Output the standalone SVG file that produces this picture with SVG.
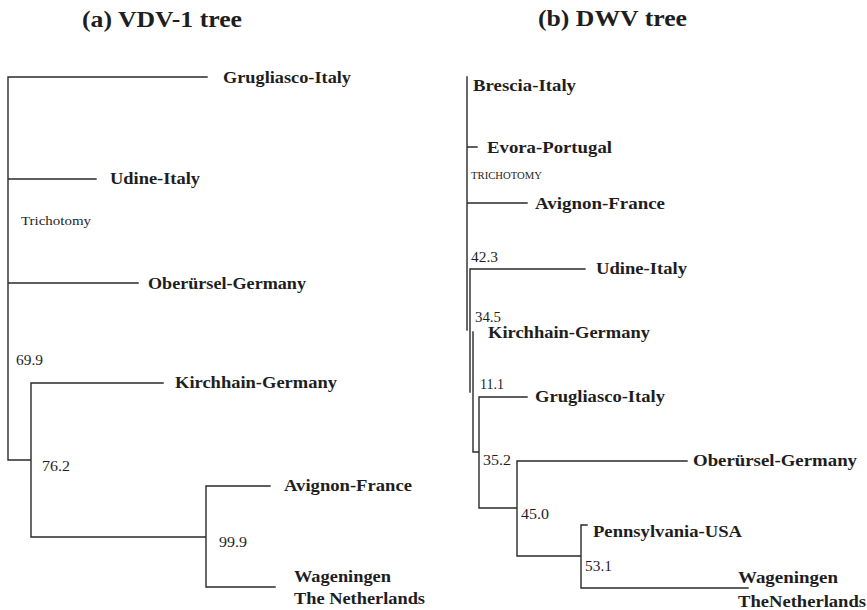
<svg xmlns="http://www.w3.org/2000/svg" width="867" height="610" viewBox="0 0 867 610">
<style>
.bg{fill:#ffffff}
.ln{stroke:#2a2a2a;stroke-width:1.4;fill:none;stroke-linecap:square}
.t{font-family:"Liberation Serif","Times New Roman",serif;fill:#1e1e1e}
.title{font-size:23px;font-weight:bold}
.lab{font-size:17px;font-weight:bold}
.num{font-size:14px}
.tri{font-size:12px}
.tri2{font-size:9.5px}
</style>
<rect class="bg" x="0" y="0" width="867" height="610"/>
<text class="t title" x="82" y="27" textLength="160" lengthAdjust="spacingAndGlyphs">(a) VDV-1 tree</text>
<text class="t title" x="538" y="26" textLength="149" lengthAdjust="spacingAndGlyphs">(b) DWV tree</text>
<g id="connectors">
<path class="ln" d="M8,77 V460 H31 M8,77 H207 M8,179 H96 M8,283 H138 M31,383 V537 M31,383 H163 M31,537 H206 M206,486 V587 M206,486 H270 M206,587 H275"/>
<path class="ln" d="M467,77 V330 M467,147 H477 M467,203 H527 M470,269 V392 M470,269 H585 M473,332 V452 H479 M479,397 V508 M479,397 H527 M479,508 H517 M517,461 V556 M517,461 H687 M517,556 H581 M581,525 V588 M581,525 H587 M581,588 H748"/>
</g>
<g id="a-grugliasco"><text class="t lab" x="223" y="83" textLength="128" lengthAdjust="spacingAndGlyphs">Grugliasco-Italy</text></g>
<g id="a-udine"><text class="t lab" x="110" y="184" textLength="90" lengthAdjust="spacingAndGlyphs">Udine-Italy</text></g>
<g id="a-trichotomy"><text class="t tri" x="21" y="225" textLength="70" lengthAdjust="spacingAndGlyphs">Trichotomy</text></g>
<g id="a-oberursel"><text class="t lab" x="148" y="289" textLength="158" lengthAdjust="spacingAndGlyphs">Oberürsel-Germany</text></g>
<g id="a-699"><text class="t num" x="16" y="365" textLength="27" lengthAdjust="spacingAndGlyphs">69.9</text></g>
<g id="a-kirchhain"><text class="t lab" x="175" y="388" textLength="162" lengthAdjust="spacingAndGlyphs">Kirchhain-Germany</text></g>
<g id="a-762"><text class="t num" x="42" y="471" textLength="28" lengthAdjust="spacingAndGlyphs">76.2</text></g>
<g id="a-avignon"><text class="t lab" x="284" y="491" textLength="128" lengthAdjust="spacingAndGlyphs">Avignon-France</text></g>
<g id="a-999"><text class="t num" x="219" y="547" textLength="28" lengthAdjust="spacingAndGlyphs">99.9</text></g>
<g id="a-wageningen"><text class="t lab" x="294" y="582" textLength="97" lengthAdjust="spacingAndGlyphs">Wageningen</text><text class="t lab" x="294" y="604" textLength="131" lengthAdjust="spacingAndGlyphs">The Netherlands</text></g>
<g id="b-brescia"><text class="t lab" x="473" y="91" textLength="103" lengthAdjust="spacingAndGlyphs">Brescia-Italy</text></g>
<g id="b-evora"><text class="t lab" x="487" y="153" textLength="125" lengthAdjust="spacingAndGlyphs">Evora-Portugal</text></g>
<g id="b-trichotomy"><text class="t tri2" x="471" y="179" textLength="71" lengthAdjust="spacingAndGlyphs">TRICHOTOMY</text></g>
<g id="b-avignon"><text class="t lab" x="535" y="209" textLength="130" lengthAdjust="spacingAndGlyphs">Avignon-France</text></g>
<g id="b-423"><text class="t num" x="471" y="262" textLength="27" lengthAdjust="spacingAndGlyphs">42.3</text></g>
<g id="b-udine"><text class="t lab" x="596" y="274" textLength="91" lengthAdjust="spacingAndGlyphs">Udine-Italy</text></g>
<g id="b-345"><text class="t num" x="475" y="322" textLength="26" lengthAdjust="spacingAndGlyphs">34.5</text></g>
<g id="b-kirchhain"><text class="t lab" x="488" y="338" textLength="162" lengthAdjust="spacingAndGlyphs">Kirchhain-Germany</text></g>
<g id="b-111"><text class="t num" x="480" y="389" textLength="24" lengthAdjust="spacingAndGlyphs">11.1</text></g>
<g id="b-grugliasco"><text class="t lab" x="535" y="402" textLength="130" lengthAdjust="spacingAndGlyphs">Grugliasco-Italy</text></g>
<g id="b-352"><text class="t num" x="483" y="465" textLength="28" lengthAdjust="spacingAndGlyphs">35.2</text></g>
<g id="b-oberursel"><text class="t lab" x="693" y="466" textLength="164" lengthAdjust="spacingAndGlyphs">Oberürsel-Germany</text></g>
<g id="b-450"><text class="t num" x="521" y="519" textLength="28" lengthAdjust="spacingAndGlyphs">45.0</text></g>
<g id="b-pennsylvania"><text class="t lab" x="593" y="537" textLength="149" lengthAdjust="spacingAndGlyphs">Pennsylvania-USA</text></g>
<g id="b-531"><text class="t num" x="585" y="571" textLength="27" lengthAdjust="spacingAndGlyphs">53.1</text></g>
<g id="b-wageningen"><text class="t lab" x="738" y="583" textLength="100" lengthAdjust="spacingAndGlyphs">Wageningen</text><text class="t lab" x="738" y="607" textLength="128" lengthAdjust="spacingAndGlyphs">TheNetherlands</text></g>
</svg>
